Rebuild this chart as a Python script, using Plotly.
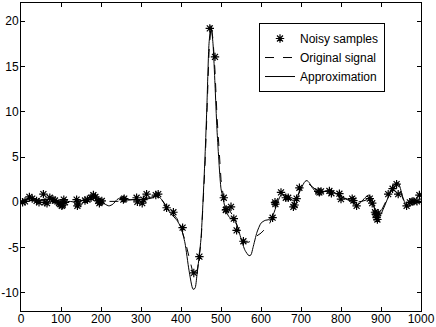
import plotly.graph_objects as go

# noisy samples
sample_x = [4, 10, 21, 28, 39, 45, 56, 60, 65, 72, 80, 85, 95, 98, 102, 104, 107, 110,
            139, 141, 143, 160, 166, 175, 181, 186, 193, 196, 198, 202, 256, 258,
            289, 291, 303, 306, 314, 337, 343,
            364, 381, 404, 432, 446, 472, 485,
            507, 512, 513, 525, 532, 539, 556, 629, 635, 636, 650, 662, 668, 681, 684,
            689, 696, 743, 746, 750, 771, 776, 796, 800, 828, 831, 839, 872, 878, 885,
            887, 889, 891, 893, 918, 929, 939, 943, 964, 972, 978, 982, 990, 996]
sample_y = [0.0, 0.1, 0.6, 0.4, 0.15, 0.0, 0.9, 0.0, -0.1, 0.5, 0.3, 0.2, -0.1, -0.2, -0.4, -0.3, 0.3, 0.0,
            0.3, -0.4, -0.2, 0.2, 0.3, 0.5, 0.8, 0.6, 0.15, -0.1, 0.05, 0.15, 0.3, 0.4,
            0.5, 0.05, -0.1, 0.3, 0.9, 0.8, 0.9,
            -0.6, -1.1, -2.8, -7.8, -6.0, 19.2, 16.05,
            0.5, -0.85, -0.8, -0.5, -1.8, -3.1, -4.3, -1.7, 0.0, -0.2, 1.1, 0.5, 0.5, -0.5, -0.3,
            0.4, 1.6, 1.2, 1.1, 1.2, 1.25, 1.0, 0.95, 0.35, 0.4, 0.2, -0.4, 0.4, -0.1, -1.1,
            -1.3, -1.7, -1.9, -1.2, 0.9, 1.5, 2.0, 0.9, -0.4, 0.0, 0.1, 0.1, 0.1, 0.8]

# original signal (dashed)
orig_x = [0, 20, 40, 60, 80, 100, 120, 140, 160, 180, 200, 220, 240, 260, 280, 300, 320, 340,
          350, 360, 370, 380, 390, 400, 410, 420, 430, 435, 440, 450, 460, 465, 470, 475, 480,
          485, 490, 500, 510, 520, 530, 540, 550, 560, 570, 580, 590, 600, 610, 620, 630, 640,
          650, 660, 670, 680, 690, 700, 710, 720, 740, 760, 780, 800, 820, 840, 860, 870, 880,
          890, 900, 910, 920, 930, 940, 950, 960, 970, 980, 990, 1000]
orig_y = [0.1, 0.3, 0.2, 0.3, 0.2, 0.0, 0.1, 0.1, 0.3, 0.5, 0.2, 0.1, 0.1, 0.2, 0.3, 0.3, 0.4, 0.6,
          0.4, -0.2, -0.7, -1.2, -1.8, -2.8, -4.2, -6.0, -7.8, -8.3, -7.8, -4.5, 4.0, 10.0, 16.5, 19.5, 18.0,
          14.5, 9.5, 2.5, -0.6, -0.8, -1.5, -2.6, -3.6, -4.4, -4.4, -4.0, -3.7, -3.4, -3.0, -2.5, -1.5, 0.3,
          1.0, 0.8, 0.5, 0.2, 0.6, 1.6, 2.1, 2.0, 1.3, 1.2, 1.1, 0.6, 0.3, 0.0, 0.2, 0.4, -0.3,
          -1.4, -1.0, 0.0, 0.8, 1.5, 1.8, 1.0, -0.2, -0.2, 0.1, 0.2, 0.4]

# approximation (solid)
approx_x = [0, 20, 40, 60, 80, 100, 120, 140, 160, 180, 190, 200, 210, 220, 230, 240, 255, 270,
            285, 300, 320, 340, 350, 360, 370, 380, 390, 400, 410, 420, 430, 435, 440, 450, 460,
            465, 470, 475, 480, 485, 490, 500, 505, 510, 515, 520, 525, 530, 540, 550, 560, 570,
            575, 580, 590, 600, 610, 620, 630, 640, 650, 660, 670, 680, 690, 700, 710, 715, 720,
            730, 745, 760, 775, 790, 805, 820, 840, 850, 860, 870, 880, 890, 895, 900, 910, 920,
            930, 940, 945, 955, 965, 975, 990, 1000]
approx_y = [0.0, 0.5, 0.2, 0.3, 0.4, -0.2, 0.1, 0.0, 0.3, 0.8, 0.6, 0.1, -0.2, -0.4, -0.2, 0.3, 0.6, 0.3,
            0.3, 0.3, 0.5, 0.7, 0.4, -0.3, -1.0, -1.5, -2.0, -2.8, -4.5, -7.5, -9.6, -9.5, -8.0, -4.0, 5.0,
            11.0, 17.5, 19.5, 17.5, 13.0, 8.0, 1.5, 0.5, -0.6, -1.2, -1.6, -1.8, -1.6, -2.5, -4.0, -5.3, -5.9,
            -5.8, -5.0, -3.3, -2.3, -2.0, -1.9, -1.4, -0.2, 0.8, 0.8, 0.5, 0.2, 0.5, 1.5, 2.3, 2.4, 2.2,
            1.5, 1.0, 1.2, 1.3, 0.9, 0.5, 0.2, -0.3, 0.0, 0.5, 0.8, 0.0, -1.5, -1.6, -1.3, -0.3, 0.8,
            1.8, 2.2, 2.0, 0.5, -0.5, -0.3, 0.0, 0.4]

y_tick_vals = [-10, -5, 0, 5, 10, 15, 20]
y_tick_text = ['-10', '-5', '0', '5', '10', '15', '20']

fig = go.Figure()
fig.add_trace(go.Scatter(x=sample_x, y=sample_y, mode='markers', name='Noisy samples',
                         marker={'symbol': 'asterisk-open', 'size': 7, 'color': 'black',
                                 'line': {'color': 'black', 'width': 1.2}}))
fig.add_trace(go.Scatter(x=orig_x, y=orig_y, mode='lines', name='Original signal',
                         line={'color': 'black', 'width': 1, 'dash': 'dash'}))
fig.add_trace(go.Scatter(x=approx_x, y=approx_y, mode='lines', name='Approximation',
                         line={'color': 'black', 'width': 1, 'shape': 'spline', 'smoothing': 0.6}))

axis_style = {'showline': True, 'linecolor': 'black', 'linewidth': 1, 'mirror': 'ticks',
              'ticks': 'inside', 'ticklen': 4, 'tickcolor': 'black', 'showgrid': False,
              'zeroline': False, 'automargin': False,
              'tickfont': {'size': 12, 'color': 'black'}}
fig.update_xaxes(range=[0, 1000], dtick=100, ticklabelstandoff=-3, **axis_style)
fig.update_yaxes(range=[-12, 22], tickvals=y_tick_vals, ticktext=y_tick_text,
                 ticklabelstandoff=-1, **axis_style)

fig.update_layout(
    width=436, height=327,
    margin={'l': 21, 'r': 15, 't': 3, 'b': 16},
    plot_bgcolor='white', paper_bgcolor='white',
    font={'family': 'Liberation Sans, Arial', 'color': 'black', 'size': 12},
    legend={'x': 0.595, 'y': 0.935, 'xanchor': 'left', 'yanchor': 'top',
            'bordercolor': 'black', 'borderwidth': 1, 'bgcolor': 'white',
            'font': {'size': 12}, 'tracegroupgap': 0},
)

# page has a default body margin; drop it so the figure sits at the window's corner
fig.write_html("out.html", config={'displayModeBar': False},
               post_script="document.body.style.margin = '0';")
